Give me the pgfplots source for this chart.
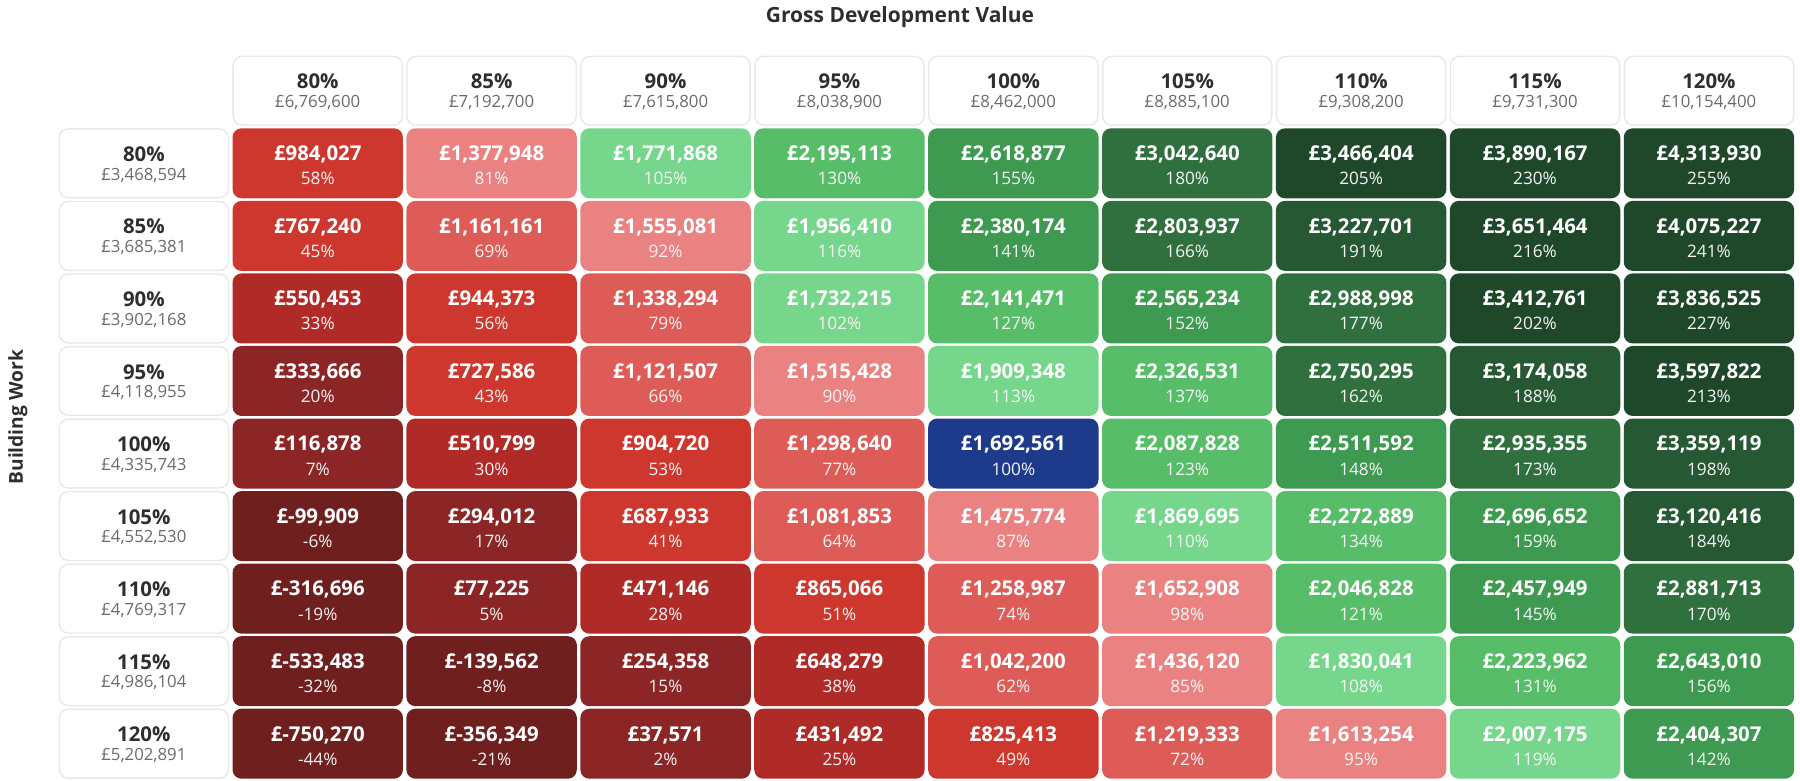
\documentclass[border=0pt]{standalone}
\usepackage{pgfplots}
\usepackage{pgfplotstable}
\usepackage{fontspec}
\setmainfont{Open Sans}
\pgfplotsset{compat=1.18}
\definecolor{hdrtxt}{HTML}{2E2E2E}
\definecolor{subtxt}{HTML}{6B6B6B}
\definecolor{hdrline}{HTML}{E8E8E8}
\definecolor{k0}{RGB}{112,31,31}
\definecolor{k1}{RGB}{140,37,37}
\definecolor{k2}{RGB}{176,43,39}
\definecolor{k3}{RGB}{206,55,45}
\definecolor{k4}{RGB}{222,92,88}
\definecolor{k5}{RGB}{234,130,130}
\definecolor{k6}{RGB}{118,214,139}
\definecolor{k7}{RGB}{88,189,105}
\definecolor{k8}{RGB}{62,154,80}
\definecolor{k9}{RGB}{47,112,62}
\definecolor{k10}{RGB}{38,88,51}
\definecolor{k11}{RGB}{31,72,42}
\definecolor{k12}{RGB}{30,58,138}

% rounded rectangle path: half width #1, half height #2, radius #3
\newcommand\roundrectpath[3]{%
  \pgfpathmoveto{\pgfpoint{-#1+#3}{#2}}%
  \pgfpathlineto{\pgfpoint{#1-#3}{#2}}%
  \pgfpatharc{90}{0}{#3}%
  \pgfpathlineto{\pgfpoint{#1}{-#2+#3}}%
  \pgfpatharc{0}{-90}{#3}%
  \pgfpathlineto{\pgfpoint{-#1+#3}{-#2}}%
  \pgfpatharc{-90}{-180}{#3}%
  \pgfpathlineto{\pgfpoint{-#1}{#2-#3}}%
  \pgfpatharc{180}{90}{#3}%
  \pgfpathclose}
\pgfdeclareplotmark{cell}{\roundrectpath{42.6pt}{17.5pt}{4.5pt}\pgfusepathqfill}
\pgfdeclareplotmark{hcell}{\roundrectpath{42.3pt}{17.2pt}{4.5pt}\pgfusepathqfillstroke}

\pgfplotstableread{
x y val pct cls
0 0 984,027 58 c3
1 0 1,377,948 81 c5
2 0 1,771,868 105 c6
3 0 2,195,113 130 c7
4 0 2,618,877 155 c8
5 0 3,042,640 180 c9
6 0 3,466,404 205 c11
7 0 3,890,167 230 c11
8 0 4,313,930 255 c11
0 1 767,240 45 c3
1 1 1,161,161 69 c4
2 1 1,555,081 92 c5
3 1 1,956,410 116 c6
4 1 2,380,174 141 c8
5 1 2,803,937 166 c9
6 1 3,227,701 191 c10
7 1 3,651,464 216 c11
8 1 4,075,227 241 c11
0 2 550,453 33 c2
1 2 944,373 56 c3
2 2 1,338,294 79 c4
3 2 1,732,215 102 c6
4 2 2,141,471 127 c7
5 2 2,565,234 152 c8
6 2 2,988,998 177 c9
7 2 3,412,761 202 c11
8 2 3,836,525 227 c11
0 3 333,666 20 c1
1 3 727,586 43 c3
2 3 1,121,507 66 c4
3 3 1,515,428 90 c5
4 3 1,909,348 113 c6
5 3 2,326,531 137 c7
6 3 2,750,295 162 c9
7 3 3,174,058 188 c10
8 3 3,597,822 213 c11
0 4 116,878 7 c1
1 4 510,799 30 c2
2 4 904,720 53 c3
3 4 1,298,640 77 c4
4 4 1,692,561 100 c12
5 4 2,087,828 123 c7
6 4 2,511,592 148 c8
7 4 2,935,355 173 c9
8 4 3,359,119 198 c10
0 5 -99,909 -6 c0
1 5 294,012 17 c1
2 5 687,933 41 c3
3 5 1,081,853 64 c4
4 5 1,475,774 87 c5
5 5 1,869,695 110 c6
6 5 2,272,889 134 c7
7 5 2,696,652 159 c8
8 5 3,120,416 184 c10
0 6 -316,696 -19 c0
1 6 77,225 5 c1
2 6 471,146 28 c2
3 6 865,066 51 c3
4 6 1,258,987 74 c4
5 6 1,652,908 98 c5
6 6 2,046,828 121 c7
7 6 2,457,949 145 c8
8 6 2,881,713 170 c9
0 7 -533,483 -32 c0
1 7 -139,562 -8 c0
2 7 254,358 15 c1
3 7 648,279 38 c2
4 7 1,042,200 62 c4
5 7 1,436,120 85 c5
6 7 1,830,041 108 c6
7 7 2,223,962 131 c7
8 7 2,643,010 156 c8
0 8 -750,270 -44 c0
1 8 -356,349 -21 c0
2 8 37,571 2 c1
3 8 431,492 25 c2
4 8 825,413 49 c3
5 8 1,219,333 72 c4
6 8 1,613,254 95 c5
7 8 2,007,175 119 c6
8 8 2,404,307 142 c8
}\cells

\pgfplotstableread{
x y top bot
0 -1 80 6,769,600
1 -1 85 7,192,700
2 -1 90 7,615,800
3 -1 95 8,038,900
4 -1 100 8,462,000
5 -1 105 8,885,100
6 -1 110 9,308,200
7 -1 115 9,731,300
8 -1 120 10,154,400
-1 0 80 3,468,594
-1 1 85 3,685,381
-1 2 90 3,902,168
-1 3 95 4,118,955
-1 4 100 4,335,743
-1 5 105 4,552,530
-1 6 110 4,769,317
-1 7 115 4,986,104
-1 8 120 5,202,891
}\heads

\begin{document}
\begin{tikzpicture}
\path[use as bounding box] (0,0) rectangle (900pt,390.5pt);
\begin{axis}[
  at={(28.45pt,0.5pt)}, anchor=south west,
  scale only axis, width=869.5pt, height=362.75pt,
  xmin=-1.5, xmax=8.5, ymin=-1.5, ymax=8.5, y dir=reverse,
  hide axis, clip=false,
]
% header boxes
\addplot[only marks, mark=hcell, mark options={fill=white, draw=hdrline, line width=0.7pt}]
  table[x=x, y=y] {\heads};
\addplot[only marks, mark=none, point meta=explicit symbolic,
  nodes near coords={\pgfplotspointmeta\%},
  every node near coord/.append style={anchor=center, yshift=4.6pt, inner sep=0pt,
    font=\fontsize{10.2}{12}\selectfont\bfseries, text=hdrtxt},
] table[x=x, y=y, meta=top] {\heads};
\addplot[only marks, mark=none, point meta=explicit symbolic,
  nodes near coords={£\pgfplotspointmeta},
  every node near coord/.append style={anchor=center, yshift=-5.9pt, inner sep=0pt,
    font=\fontsize{8.4}{10}\selectfont, text=subtxt},
] table[x=x, y=y, meta=bot] {\heads};
% data cell boxes, coloured by class
\addplot[
  scatter, only marks, mark=cell, point meta=explicit symbolic,
  scatter/classes={
    c0={fill=k0}, c1={fill=k1}, c2={fill=k2}, c3={fill=k3}, c4={fill=k4},
    c5={fill=k5}, c6={fill=k6}, c7={fill=k7}, c8={fill=k8}, c9={fill=k9},
    c10={fill=k10}, c11={fill=k11}, c12={fill=k12}},
] table[x=x, y=y, meta=cls] {\cells};
% value labels
\addplot[only marks, mark=none, point meta=explicit symbolic,
  nodes near coords={£\pgfplotspointmeta},
  every node near coord/.append style={anchor=center, yshift=4.4pt, inner sep=0pt,
    font=\fontsize{10.2}{12}\selectfont\bfseries, text=white},
] table[x=x, y=y, meta=val] {\cells};
% percentage labels
\addplot[only marks, mark=none, point meta=explicit symbolic,
  nodes near coords={\pgfplotspointmeta\%},
  every node near coord/.append style={anchor=center, yshift=-7.7pt, inner sep=0pt,
    font=\fontsize{8.6}{10}\selectfont, text=white!92!gray},
] table[x=x, y=y, meta=pct] {\cells};
\node[font=\fontsize{10.5}{12}\selectfont\bfseries, text=hdrtxt] at ([yshift=18.5pt]axis description cs:0.4848,1) {Gross Development Value};
\node[font=\fontsize{9.6}{11}\selectfont\bfseries, text=hdrtxt, rotate=90] at ([xshift=-19.5pt]axis description cs:0,0.5) {Building Work};
\end{axis}
\end{tikzpicture}
\end{document}
